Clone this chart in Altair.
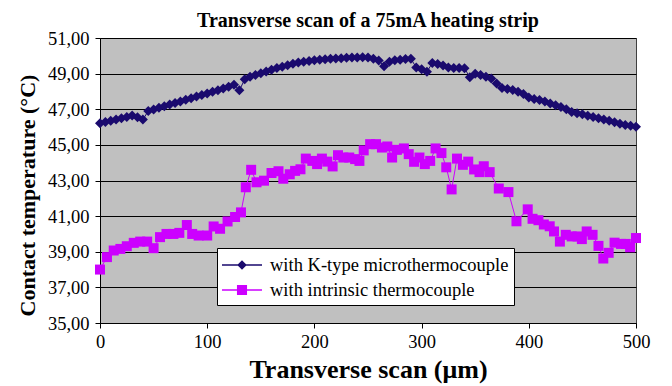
import altair as alt
import pandas as pd

K_NAME = "with K-type microthermocouple"
I_NAME = "with intrinsic thermocouple"

k_x = list(range(0, 501, 5))
k_y = [46.21, 46.28, 46.35, 46.42, 46.50, 46.57, 46.65, 46.55, 46.42, 46.90,
       46.99, 47.08, 47.17, 47.26, 47.35, 47.44, 47.53, 47.62, 47.71, 47.80,
       47.89, 47.98, 48.07, 48.16, 48.26, 48.38, 48.06, 48.68, 48.82, 48.92,
       49.02, 49.12, 49.22, 49.31, 49.39, 49.47, 49.55, 49.62, 49.67, 49.71,
       49.75, 49.78, 49.81, 49.83, 49.85, 49.87, 49.89, 49.90, 49.91, 49.92,
       49.90, 49.84, 49.74, 49.42, 49.66, 49.75, 49.78, 49.82, 49.83, 49.35,
       49.24, 49.10, 49.60, 49.54, 49.45, 49.34, 49.32, 49.32, 49.30, 48.80,
       49.00, 48.92, 48.82, 48.72, 48.45, 48.20, 48.14, 48.08, 47.98, 47.86,
       47.66, 47.58, 47.52, 47.44, 47.32, 47.22, 47.12, 47.00, 46.84, 46.78,
       46.72, 46.64, 46.56, 46.49, 46.42, 46.35, 46.27, 46.18, 46.12, 46.07,
       46.02]

i_x = [0, 6.5, 12.8, 19, 25, 31.5, 37.5, 44, 50, 56, 62, 68.5, 74, 81, 86, 92,
       100, 106, 112, 119, 126, 131.5, 136, 141, 146, 153, 160, 166.5, 171,
       177, 182, 187, 192, 198, 202.5, 207, 212, 217, 222, 227, 232.5, 238,
       242, 246, 252, 257.5, 263, 268, 272.5, 277, 283.5, 288, 293, 298, 303,
       308, 313, 318.5, 323, 328, 333, 338.5, 343.5, 349, 354, 358, 363.5, 372,
       381, 388.5, 399, 403.5, 409, 414, 419.5, 423.5, 429, 434.5, 440, 445.5,
       449.5, 454, 459.5, 465, 469.5, 474.5, 480, 486, 490.5, 494.5, 500]
i_y = [38.00, 38.70, 39.07, 39.16, 39.31, 39.50, 39.57, 39.57, 39.20, 39.82,
       40.00, 40.00, 40.06, 40.50, 40.00, 39.91, 39.91, 40.42, 40.29, 40.70,
       40.95, 41.21, 42.62, 43.60, 42.90, 42.99, 43.42, 43.52, 43.10, 43.35,
       43.54, 43.63, 44.23, 44.10, 43.92, 44.23, 44.06, 43.79, 44.42, 44.29,
       44.29, 44.20, 44.10, 44.69, 45.04, 45.04, 44.85, 44.91, 44.29, 44.72,
       44.80, 44.48, 44.05, 44.29, 43.92, 44.10, 44.80, 44.54, 43.74, 42.50,
       44.23, 43.88, 44.06, 43.62, 43.47, 43.80, 43.47, 42.55, 42.35, 40.71,
       41.38, 40.85, 40.77, 40.53, 40.43, 40.14, 39.57, 39.95, 39.86, 39.86,
       39.71, 40.14, 39.95, 39.33, 38.62, 38.94, 39.51, 39.44, 39.44, 39.25,
       39.77]

x_ticks = [0, 100, 200, 300, 400, 500]
y_ticks = [35, 37, 39, 41, 43, 45, 47, 49, 51]

NAVY = "#1a0a6e"
MAGENTA = "#cc00ff"
FONT = "Liberation Serif"

df = pd.concat([
    pd.DataFrame({"x": k_x, "y": k_y, "series": K_NAME}),
    pd.DataFrame({"x": i_x, "y": i_y, "series": I_NAME}),
], ignore_index=True)

x_enc = alt.X("x:Q", scale=alt.Scale(domain=[0, 500], nice=False, zero=False),
              axis=alt.Axis(values=x_ticks, grid=False, title="Transverse scan (μm)",
                            titleY=54, titleBaseline="alphabetic", titleFontSize=26))
y_enc = alt.Y("y:Q", scale=alt.Scale(domain=[35, 51], nice=False, zero=False),
              axis=alt.Axis(values=y_ticks, grid=True, title="Contact  temperature (°C)",
                            labelExpr="replace(format(datum.value, '.2f'), '.', ',')",
                            titleX=-73, titleY=157, titleAngle=270, titleFontSize=22,
                            titleBaseline="middle", titleAlign="center"))

base = alt.Chart(df)
k_sel = alt.datum.series == K_NAME
i_sel = alt.datum.series == I_NAME

line_k = base.transform_filter(k_sel).mark_line(color=NAVY, strokeWidth=1).encode(x=x_enc, y=y_enc)
line_i = base.transform_filter(i_sel).mark_line(color=MAGENTA, strokeWidth=1).encode(x=x_enc, y=y_enc)
pts_k = base.transform_filter(k_sel).mark_point(shape="diamond", filled=True, size=100,
                                                 color=NAVY, opacity=1).encode(x=x_enc, y=y_enc)
pts_i = base.transform_filter(i_sel).mark_square(size=100, color=MAGENTA, opacity=1).encode(x=x_enc, y=y_enc)

PATH_K = ("M-1.667,-0.06H1.667V0.06H-1.667Z"
          "M0,-0.4L0.4,0L0,0.4L-0.4,0Z")
PATH_I = ("M-1.667,-0.06H1.667V0.06H-1.667Z"
          "M-0.42,-0.42H0.42V0.42H-0.42Z")

leg = alt.Legend(orient="none", legendX=117, legendY=210, title=None,
                 fillColor="white", strokeColor="black", padding=5,
                 labelFont=FONT, labelFontSize=18.5, labelColor="black",
                 labelLimit=500, symbolSize=576, symbolOffset=8, labelOffset=16,
                 rowPadding=3, symbolStrokeWidth=0, symbolOpacity=1)

legend_layer = base.transform_filter("false").mark_point(filled=True, size=576, opacity=1).encode(
    x=x_enc, y=y_enc,
    color=alt.Color("series:N", scale=alt.Scale(domain=[K_NAME, I_NAME], range=[NAVY, MAGENTA]), legend=leg),
    shape=alt.Shape("series:N", scale=alt.Scale(domain=[K_NAME, I_NAME], range=[PATH_K, PATH_I]), legend=leg),
)

chart = alt.layer(line_k, line_i, pts_k, pts_i, legend_layer).properties(
    width=536, height=285,
    padding={"left": 92, "top": 30, "right": 28, "bottom": 63},
    autosize="none",
    title=alt.TitleParams("Transverse scan of a 75mA heating strip", font=FONT, fontSize=20,
                          fontWeight="bold", color="black", offset=0, dy=2, anchor="middle",
                          frame="group"),
).configure_view(
    fill="#c0c0c0", stroke="#404040", strokeWidth=1
).configure_axis(
    labelFont=FONT, labelFontSize=18.5, labelColor="black", labelFlush=False,
    titleFont=FONT, titleFontWeight="bold", titleColor="black",
    domainColor="black", tickColor="black", tickSize=5, gridColor="black", gridWidth=1,
    domainWidth=1, tickWidth=1, labelPadding=5,
).configure_axisX(labelPadding=4).configure_axisY(labelPadding=6)

chart.save("out.html", embed_options={"renderer": "svg", "actions": False})
